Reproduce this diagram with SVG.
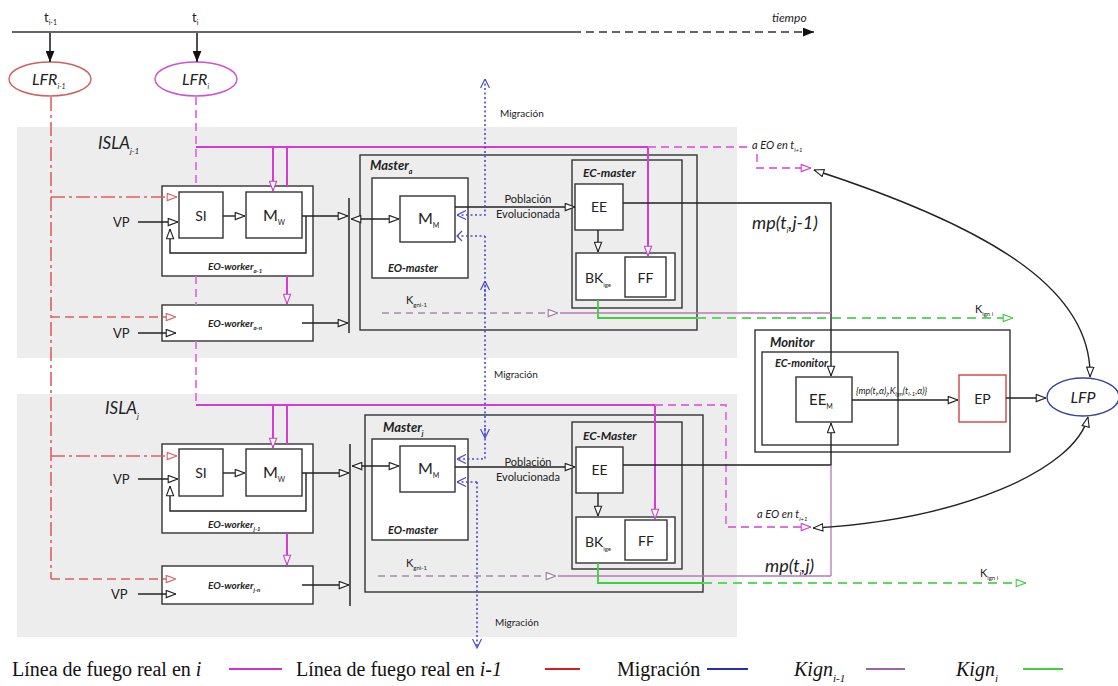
<svg xmlns="http://www.w3.org/2000/svg" width="1118" height="686" viewBox="0 0 1118 686">
<style>
.t{font-family:Lato,"Open Sans","DejaVu Sans",sans-serif;fill:#222}
.bi{font-weight:bold;font-style:italic}
.it{font-style:italic}
.box{fill:#fff;stroke:#333;stroke-width:1.4}
.frame{fill:none;stroke:#333;stroke-width:1.4}
.gray{fill:#ededed}
.ln{fill:none;stroke:#222;stroke-width:1.4}
.mag{fill:none;stroke:#d23ed2;stroke-width:2}
.magd{fill:none;stroke:#e070e0;stroke-width:1.8;stroke-dasharray:8 5}
.redd{fill:none;stroke:#de6060;stroke-width:1.6;stroke-dasharray:9 5}
.reddd{fill:none;stroke:#de6060;stroke-width:1.6;stroke-dasharray:14 4 3 4}
.blu{fill:none;stroke:#4a4ad0;stroke-width:1.6;stroke-dasharray:2 2.5}
.pur{fill:none;stroke:#b37ab3;stroke-width:1.3}
.purd{fill:none;stroke:#a58aa5;stroke-width:1.3;stroke-dasharray:7 5}
.grn{fill:none;stroke:#3fcf3f;stroke-width:1.8}
.grnd{fill:none;stroke:#5fd85f;stroke-width:1.8;stroke-dasharray:9 6}
.leg{font-family:"Liberation Serif","Times New Roman",serif;font-size:20px;fill:#111}
</style>
<defs>
<marker id="aB" viewBox="0 0 10 8" refX="9.6" refY="4" markerWidth="11" markerHeight="9" markerUnits="userSpaceOnUse" orient="auto-start-reverse"><path d="M0.7,0.7 L9.4,4 L0.7,7.3 z" fill="#fff" stroke="#222" stroke-width="1"/></marker>
<marker id="aM" viewBox="0 0 10 8" refX="9.6" refY="4" markerWidth="11" markerHeight="9" markerUnits="userSpaceOnUse" orient="auto-start-reverse"><path d="M0.7,0.7 L9.4,4 L0.7,7.3 z" fill="#fff" stroke="#d23ed2" stroke-width="1"/></marker>
<marker id="aR" viewBox="0 0 10 8" refX="9.6" refY="4" markerWidth="11" markerHeight="9" markerUnits="userSpaceOnUse" orient="auto-start-reverse"><path d="M0.7,0.7 L9.4,4 L0.7,7.3 z" fill="#fff" stroke="#de6060" stroke-width="1"/></marker>
<marker id="aG" viewBox="0 0 10 8" refX="9.6" refY="4" markerWidth="11" markerHeight="9" markerUnits="userSpaceOnUse" orient="auto-start-reverse"><path d="M0.7,0.7 L9.4,4 L0.7,7.3 z" fill="#fff" stroke="#3fcf3f" stroke-width="1"/></marker>
<marker id="aP" viewBox="0 0 10 8" refX="9.6" refY="4" markerWidth="11" markerHeight="9" markerUnits="userSpaceOnUse" orient="auto-start-reverse"><path d="M0.7,0.7 L9.4,4 L0.7,7.3 z" fill="#fff" stroke="#a07aa0" stroke-width="1"/></marker>
<marker id="aU" viewBox="0 0 10 10" refX="9.5" refY="5" markerWidth="10" markerHeight="10" markerUnits="userSpaceOnUse" orient="auto-start-reverse"><path d="M0.5,0.5 L9.5,5 L0.5,9.5" fill="none" stroke="#4a4ad0" stroke-width="1.2"/></marker>
<marker id="aF" viewBox="0 0 10 8" refX="10" refY="4" markerWidth="11" markerHeight="9" markerUnits="userSpaceOnUse" orient="auto-start-reverse"><path d="M0,0 L10,4 L0,8 z" fill="#111"/></marker>
</defs>

<g id="isla-j-1">
<rect class="gray" x="17" y="127" width="720" height="231"/>
<text class="t it" x="98" y="149" font-size="17">ISLA<tspan font-size="8" dy="5">j-1</tspan></text>
</g>
<g id="isla-j">
<rect class="gray" x="17" y="394" width="720" height="243"/>
<text class="t it" x="105" y="414" font-size="17">ISLA<tspan font-size="8" dy="5">j</tspan></text>
</g>

<g id="timeline">
<line x1="12" y1="32" x2="573" y2="32" stroke="#333" stroke-width="1.6"/>
<line x1="573" y1="32" x2="814" y2="32" stroke="#333" stroke-width="1.6" stroke-dasharray="8 5" marker-end="url(#aF)"/>
<text class="t it" x="772" y="22" font-size="12">tiempo</text>
<text class="t" x="44" y="22" font-size="13">t<tspan font-size="7" dy="3">i-1</tspan></text>
<text class="t" x="192" y="22" font-size="13">t<tspan font-size="7" dy="3">i</tspan></text>
</g>

<g id="lfr-i-1">
<ellipse cx="50" cy="79" rx="41" ry="17" fill="#fff" stroke="#d06060" stroke-width="1.4"/>
<text class="t it" x="32" y="85" font-size="16">LFR<tspan font-size="7" dy="4">i-1</tspan></text>
</g>
<g id="lfr-i">
<ellipse cx="196" cy="79" rx="41" ry="17" fill="#fff" stroke="#d050d0" stroke-width="1.4"/>
<text class="t it" x="182" y="85" font-size="16">LFR<tspan font-size="7" dy="4">i</tspan></text>
</g>

<g id="eo-worker-a-1">
<rect class="box" x="162" y="186" width="151" height="90"/>
<text class="t bi" x="208" y="270" font-size="10">EO-worker<tspan font-size="6" dy="3">a-1</tspan></text>
</g>
<g id="si-a"><rect class="box" x="179" y="192" width="44" height="46"/><text class="t" x="201" y="221" font-size="14" text-anchor="middle">SI</text></g>
<g id="mw-a"><rect class="box" x="246" y="192" width="56" height="46"/><text class="t" x="263" y="221" font-size="16">M<tspan font-size="7" dy="4">W</tspan></text></g>
<g id="eo-worker-a-n">
<rect class="box" x="162" y="305" width="151" height="36"/>
<text class="t bi" x="208" y="327" font-size="10">EO-worker<tspan font-size="6" dy="3">a-n</tspan></text>
</g>
<g id="bar-a"><line x1="349" y1="198" x2="349" y2="333" stroke="#333" stroke-width="1.6"/></g>
<g id="master-a">
<rect class="frame" x="360" y="155" width="337" height="175"/>
<text class="t bi" x="370" y="170" font-size="13">Master<tspan font-size="7" dy="4">a</tspan></text>
</g>
<g id="eo-master-a">
<rect class="box" x="372" y="178" width="96" height="100"/>
<text class="t bi" x="388" y="272" font-size="11">EO-master</text>
</g>
<g id="mm-a"><rect class="box" x="400" y="196" width="55" height="46"/><text class="t" x="418" y="224" font-size="16">M<tspan font-size="7" dy="4">M</tspan></text></g>
<g id="ec-master-a">
<rect class="frame" x="572" y="160" width="110" height="148"/>
<text class="t bi" x="583" y="177" font-size="12">EC-master</text>
</g>
<g id="ee-a"><rect class="box" x="575" y="184" width="48" height="46"/><text class="t" x="599" y="212" font-size="14" text-anchor="middle">EE</text></g>
<g id="bk-a"><rect class="box" x="576" y="253" width="99" height="47"/><text class="t" x="585" y="283" font-size="14">BK<tspan font-size="6" dy="4">ige</tspan></text></g>
<g id="ff-a"><rect class="box" x="625" y="257" width="41" height="40"/><text class="t" x="645.500" y="283" font-size="14" text-anchor="middle">FF</text></g>

<g id="eo-worker-j-1">
<rect class="box" x="162" y="444" width="151" height="89"/>
<text class="t bi" x="208" y="528" font-size="10">EO-worker<tspan font-size="6" dy="3">j-1</tspan></text>
</g>
<g id="si-j"><rect class="box" x="179" y="449" width="44" height="47"/><text class="t" x="201" y="478" font-size="14" text-anchor="middle">SI</text></g>
<g id="mw-j"><rect class="box" x="246" y="449" width="56" height="47"/><text class="t" x="263" y="478" font-size="16">M<tspan font-size="7" dy="4">W</tspan></text></g>
<g id="eo-worker-j-n">
<rect class="box" x="162" y="566" width="151" height="38"/>
<text class="t bi" x="208" y="589" font-size="10">EO-worker<tspan font-size="6" dy="3">j-n</tspan></text>
</g>
<g id="bar-j"><line x1="350" y1="444" x2="350" y2="606" stroke="#333" stroke-width="1.6"/></g>
<g id="master-j">
<rect class="frame" x="365" y="415" width="338" height="177"/>
<text class="t bi" x="383" y="432" font-size="13">Master<tspan font-size="7" dy="4">j</tspan></text>
</g>
<g id="eo-master-j">
<rect class="box" x="372" y="439" width="96" height="101"/>
<text class="t bi" x="388" y="534" font-size="11">EO-master</text>
</g>
<g id="mm-j"><rect class="box" x="400" y="446" width="55" height="46"/><text class="t" x="418" y="474" font-size="16">M<tspan font-size="7" dy="4">M</tspan></text></g>
<g id="ec-master-j">
<rect class="frame" x="572" y="422" width="110" height="147"/>
<text class="t bi" x="583" y="440" font-size="12">EC-Master</text>
</g>
<g id="ee-j"><rect class="box" x="576" y="447" width="47" height="46"/><text class="t" x="599.500" y="475" font-size="14" text-anchor="middle">EE</text></g>
<g id="bk-j"><rect class="box" x="576" y="517" width="99" height="46"/><text class="t" x="585" y="547" font-size="14">BK<tspan font-size="6" dy="4">ige</tspan></text></g>
<g id="ff-j"><rect class="box" x="625" y="520" width="42" height="40"/><text class="t" x="646" y="546" font-size="14" text-anchor="middle">FF</text></g>

<g id="monitor">
<rect class="box" x="755" y="330" width="255" height="122"/>
<text class="t bi" x="770" y="347" font-size="13">Monitor</text>
</g>
<g id="ec-monitor">
<rect class="box" x="762" y="352" width="136" height="93"/>
<text class="t bi" x="775" y="367" font-size="11">EC-monitor</text>
</g>
<g id="ee-m"><rect class="box" x="796" y="377" width="56" height="45"/><text class="t" x="809" y="405" font-size="15">EE<tspan font-size="7" dy="4">M</tspan></text></g>
<g id="ep"><rect x="959" y="375" width="47" height="47" fill="#fff" stroke="#cc4444" stroke-width="1.4"/><text class="t" x="982.500" y="404" font-size="14" text-anchor="middle">EP</text></g>
<g id="lfp">
<ellipse cx="1083" cy="397" rx="36" ry="19" fill="#fff" stroke="#334499" stroke-width="1.4"/>
<text class="t it" x="1083" y="403" font-size="16" text-anchor="middle">LFP</text>
</g>

<g id="connectors">
<line x1="50" y1="33" x2="50" y2="62" stroke="#222" stroke-width="1.6" marker-end="url(#aF)"/>
<line x1="197" y1="33" x2="197" y2="62" stroke="#222" stroke-width="1.6" marker-end="url(#aF)"/>

<path class="reddd" d="M51,97 V579"/>
<path class="reddd" d="M51,197 H177" marker-end="url(#aR)"/>
<path class="redd" d="M51,317 H176" marker-end="url(#aR)"/>
<path class="reddd" d="M51,456 H177" marker-end="url(#aR)"/>
<path class="redd" d="M51,579 H176" marker-end="url(#aR)"/>

<path class="magd" d="M196,97 V186 M196,276 V305 M196,341 V405"/>
<path class="mag" d="M196,147 H648"/>
<path class="mag" d="M273,147 V191" marker-end="url(#aM)"/>
<path class="mag" d="M287,147 V186"/>
<path class="mag" d="M287,276 V304" marker-end="url(#aM)"/>
<path class="mag" d="M648,147 V256" marker-end="url(#aM)"/>
<path class="magd" d="M648,147 H751 M757,154 V168 H811" marker-end="url(#aM)"/>
<path class="mag" d="M196,405 H655"/>
<path class="mag" d="M273,405 V448" marker-end="url(#aM)"/>
<path class="mag" d="M287,405 V444"/>
<path class="mag" d="M287,533 V565" marker-end="url(#aM)"/>
<path class="mag" d="M655,405 V519" marker-end="url(#aM)"/>
<path class="magd" d="M655,405 H726 V527 H811" marker-end="url(#aM)"/>
<text class="t it" x="752" y="149" font-size="11">a EO en t<tspan font-size="6" dy="3">i+1</tspan></text>
<text class="t it" x="757" y="518" font-size="11">a EO en t<tspan font-size="6" dy="3">i+1</tspan></text>

<path class="ln" d="M138,222 H178" marker-end="url(#aB)"/>
<text class="t" x="113" y="227" font-size="13">VP</text>
<path class="ln" d="M223,216 H245" marker-end="url(#aB)"/>
<path class="ln" d="M302,216 H348" marker-end="url(#aB)"/>
<path class="ln" d="M306,216 V253 H170 V229" marker-end="url(#aB)"/>
<path class="ln" d="M138,333 H176" marker-end="url(#aB)"/>
<text class="t" x="113" y="338" font-size="13">VP</text>
<path class="ln" d="M302,323 H348" marker-end="url(#aB)"/>
<path class="ln" d="M351,219 H399" marker-start="url(#aB)" marker-end="url(#aB)"/>

<path class="ln" d="M455,207 H575" marker-end="url(#aB)"/>
<text class="t" x="528" y="203" font-size="11" text-anchor="middle">Población</text>
<text class="t" x="528" y="218" font-size="11" text-anchor="middle">Evolucionada</text>
<path class="ln" d="M598,230 V252" marker-end="url(#aB)"/>
<path class="ln" d="M623,203 H831 V376" marker-end="url(#aB)"/>
<text class="t it" x="752" y="229" font-size="18">mp(t<tspan font-size="8" dy="4">i</tspan><tspan dy="-4">,j-1)</tspan></text>
<path class="purd" d="M382,313 H558" marker-end="url(#aP)"/>
<path class="pur" d="M560,313 H831"/>
<text class="t" x="406" y="304" font-size="11">K<tspan font-size="6" dy="3">gni-1</tspan></text>
<path class="grn" d="M598,300 V318 H697"/>
<path class="grnd" d="M697,318 H1013" marker-end="url(#aG)"/>
<text class="t" x="975" y="313" font-size="11">K<tspan font-size="6" dy="3">ign i</tspan></text>

<path class="blu" d="M485,79 V215 H457" marker-start="url(#aU)" marker-end="url(#aU)"/>
<path class="blu" d="M485,236 V459 H457" marker-end="url(#aU)"/>
<path class="blu" d="M457,236 H485"/>
<path class="blu" d="M485,300 V281" marker-end="url(#aU)"/>
<path class="blu" d="M485,428 V438" marker-end="url(#aU)"/>
<path class="blu" d="M477,482 H457" marker-end="url(#aU)"/>
<path class="blu" d="M477,482 V648" marker-end="url(#aU)"/>
<path d="M462,231 L457,236 L462,241" fill="none" stroke="#4a4ad0" stroke-width="1.2"/>
<text class="t" x="500" y="117" font-size="10">Migración</text>
<text class="t" x="494" y="378" font-size="10">Migración</text>
<text class="t" x="495" y="626" font-size="10">Migración</text>

<path class="ln" d="M138,479 H178" marker-end="url(#aB)"/>
<text class="t" x="113" y="484" font-size="13">VP</text>
<path class="ln" d="M223,473 H245" marker-end="url(#aB)"/>
<path class="ln" d="M302,473 H349" marker-end="url(#aB)"/>
<path class="ln" d="M306,473 V511 H170 V486" marker-end="url(#aB)"/>
<path class="ln" d="M138,594 H176" marker-end="url(#aB)"/>
<text class="t" x="111" y="599" font-size="13">VP</text>
<path class="ln" d="M302,585 H349" marker-end="url(#aB)"/>
<path class="ln" d="M352,466 H399" marker-start="url(#aB)" marker-end="url(#aB)"/>

<path class="ln" d="M455,467 H575" marker-end="url(#aB)"/>
<text class="t" x="528" y="466" font-size="11" text-anchor="middle">Población</text>
<text class="t" x="528" y="481" font-size="11" text-anchor="middle">Evolucionada</text>
<path class="ln" d="M598,493 V516" marker-end="url(#aB)"/>
<path class="ln" d="M623,465 H831 V423" marker-end="url(#aB)"/>
<path class="pur" d="M831,465 V576"/>
<text class="t it" x="765" y="572" font-size="18">mp(t<tspan font-size="8" dy="4">i</tspan><tspan dy="-4">,j)</tspan></text>
<path class="purd" d="M378,576 H556" marker-end="url(#aP)"/>
<path class="pur" d="M558,576 H831"/>
<text class="t" x="406" y="567" font-size="11">K<tspan font-size="6" dy="3">gni-1</tspan></text>
<path class="grn" d="M598,563 V583 H703"/>
<path class="grnd" d="M703,583 H1026" marker-end="url(#aG)"/>
<text class="t" x="980" y="577" font-size="11">K<tspan font-size="6" dy="3">ign i</tspan></text>

<path class="ln" d="M852,400 H958" marker-end="url(#aB)"/>
<text class="t it" x="856" y="394" font-size="9">{mp(t<tspan font-size="6" dy="2">i</tspan><tspan dy="-2">,α)</tspan><tspan font-size="6" dy="2">j</tspan><tspan dy="-2">,K</tspan><tspan font-size="6" dy="2">ign</tspan><tspan dy="-2">(t</tspan><tspan font-size="6" dy="2">i-1</tspan><tspan dy="-2">,α)}</tspan></text>
<path class="ln" d="M1006,398 H1046" marker-end="url(#aB)"/>
<path class="ln" d="M1090,377 C1092,295 1005,232 814,170" marker-start="url(#aB)" marker-end="url(#aB)"/>
<path class="ln" d="M1088,417 C1075,470 960,520 813,528" marker-start="url(#aB)" marker-end="url(#aB)"/>
</g>

<g id="legend">
<text class="leg" x="12" y="676">Línea de fuego real en <tspan font-style="italic">i</tspan></text>
<line x1="229" y1="669" x2="282" y2="669" stroke="#cc33cc" stroke-width="2"/>
<text class="leg" x="296" y="676">Línea de fuego real en <tspan font-style="italic">i-1</tspan></text>
<line x1="545" y1="669" x2="580" y2="669" stroke="#cc2222" stroke-width="2"/>
<text class="leg" x="617" y="676">Migración</text>
<line x1="707" y1="669" x2="748" y2="669" stroke="#2233aa" stroke-width="2"/>
<text class="leg" x="794" y="676" font-style="italic">Kign<tspan font-size="11" dy="6">i-1</tspan></text>
<line x1="866" y1="669" x2="905" y2="669" stroke="#9966aa" stroke-width="2"/>
<text class="leg" x="956" y="676" font-style="italic">Kign<tspan font-size="11" dy="6">i</tspan></text>
<line x1="1023" y1="669" x2="1063" y2="669" stroke="#44cc44" stroke-width="2"/>
</g>
</svg>
